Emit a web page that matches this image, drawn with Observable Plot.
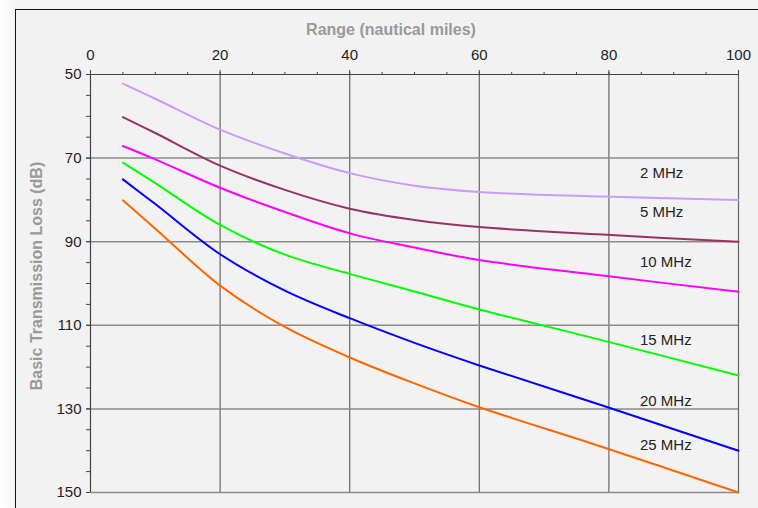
<!DOCTYPE html>
<html>
<head>
<meta charset="utf-8">
<script src="https://cdn.jsdelivr.net/npm/d3@7"></script>
<script src="https://cdn.jsdelivr.net/npm/@observablehq/plot@0.6"></script>
<style>
  html, body { margin: 0; padding: 0; overflow: hidden; }
  body { width: 758px; height: 508px; position: relative;
         background: linear-gradient(90deg, #ffffff 0px, #f4f4f4 16px); font-family: "Liberation Sans", Arial, sans-serif; }
  #frame { position: absolute; left: 15px; top: 9px; width: 800px; height: 560px;
           border: 1.5px solid #111; background: #f2f2f2; }
  #chart { position: absolute; left: 0; top: 0; }
</style>
</head>
<body>
<div id="frame"></div>
<div id="chart"></div>
<script>
// Range (nautical miles)
const range = [5, 10, 20, 30, 40, 50, 60, 79, 100];
// Basic transmission loss (dB) per frequency
const loss2  = [52.2, 55.8, 63.2, 68.9, 73.6, 76.6, 78.1, 79.2, 80.0];
const loss5  = [60.2, 64.0, 71.8, 77.6, 82.1, 84.8, 86.5, 88.3, 90.0];
const loss10 = [67.1, 70.3, 77.1, 82.9, 88.0, 91.4, 94.4, 98.1, 102.0];
const loss15 = [71.1, 76.0, 86.0, 93.1, 97.7, 101.9, 106.2, 113.6, 122.0];
const loss20 = [75.1, 81.0, 93.0, 101.7, 108.3, 114.2, 119.6, 129.2, 140.0];
const loss25 = [80.1, 86.9, 100.5, 110.4, 117.7, 123.9, 129.6, 139.1, 150.0];

const seriesNames = ["2 MHz", "5 MHz", "10 MHz", "15 MHz", "20 MHz", "25 MHz"];
const seriesValues = [loss2, loss5, loss10, loss15, loss20, loss25];
const seriesColors = ["#cc99ff", "#993366", "#ff00ff", "#00ff00", "#0000ff", "#ff6600"];
// label anchor points (data coordinates)
const labelX = [84.8, 84.8, 84.8, 84.8, 84.8, 84.8];
const labelY = [73.7, 83.0, 95.0, 113.6, 128.2, 138.8];

const xTicks = [0, 20, 40, 60, 80, 100];
const yTicks = [50, 70, 90, 110, 130, 150];
const xMinor = d3.range(0, 101, 5);
const yMinor = d3.range(50, 151, 5);
const xGrid = [20, 40, 60, 80, 100];
const yGrid = [70, 90, 110, 130, 150];

const rows = [];
seriesNames.forEach((name, i) => {
  range.forEach((r, j) => rows.push({series: name, range: r, loss: seriesValues[i][j]}));
});
const labels = seriesNames.map((name, i) => ({series: name, x: labelX[i], y: labelY[i]}));

const chart = Plot.plot({
  width: 758,
  height: 508,
  marginLeft: 90,
  marginRight: 20,
  marginTop: 74,
  marginBottom: 16,
  style: {background: "transparent", fontFamily: "'Liberation Sans', Arial, sans-serif", fontSize: "15px", color: "#222"},
  x: {domain: [0, 100]},
  y: {domain: [50, 150], reverse: true},
  color: {domain: seriesNames, range: seriesColors},
  marks: [
    Plot.ruleX(xGrid, {stroke: "#666", strokeWidth: 1.2, strokeOpacity: 1}),
    Plot.ruleY(yGrid, {stroke: "#8a8a8a", strokeWidth: 1.5, strokeOpacity: 1}),
    Plot.axisX(xMinor, {anchor: "top", tickSize: 3, text: null, stroke: "#444", label: null}),
    Plot.axisX(xTicks, {anchor: "top", tickSize: 5, tickPadding: 10, stroke: "#444", fill: "#222", fontSize: 15, label: null}),
    Plot.axisY(yMinor, {anchor: "left", tickSize: 4, text: null, stroke: "#444", label: null}),
    Plot.axisY(yTicks, {anchor: "left", tickSize: 4, tickPadding: 5, stroke: "#444", fill: "#222", fontSize: 15, label: null}),
    Plot.ruleY([50], {stroke: "#444", strokeWidth: 1.2}),
    Plot.ruleX([0], {stroke: "#444", strokeWidth: 1.2}),
    Plot.line(rows, {x: "range", y: "loss", z: "series", stroke: "series", strokeWidth: 2, curve: "catmull-rom"}),
    Plot.text(labels, {x: "x", y: "y", text: "series", textAnchor: "start", fill: "#222", fontSize: 15})
  ]
});

// axis titles
const svg = d3.select(chart);
svg.append("text")
  .attr("x", 391).attr("y", 31)
  .attr("text-anchor", "middle").attr("dominant-baseline", "middle")
  .attr("fill", "#999").attr("font-weight", "bold").attr("font-size", 16)
  .text("Range (nautical miles)");
svg.append("text")
  .attr("transform", "translate(38,276) rotate(-90)")
  .attr("text-anchor", "middle").attr("dominant-baseline", "middle")
  .attr("fill", "#999").attr("font-weight", "bold").attr("font-size", 16)
  .text("Basic Transmission Loss (dB)");

document.getElementById("chart").appendChild(chart);
</script>
</body>
</html>
